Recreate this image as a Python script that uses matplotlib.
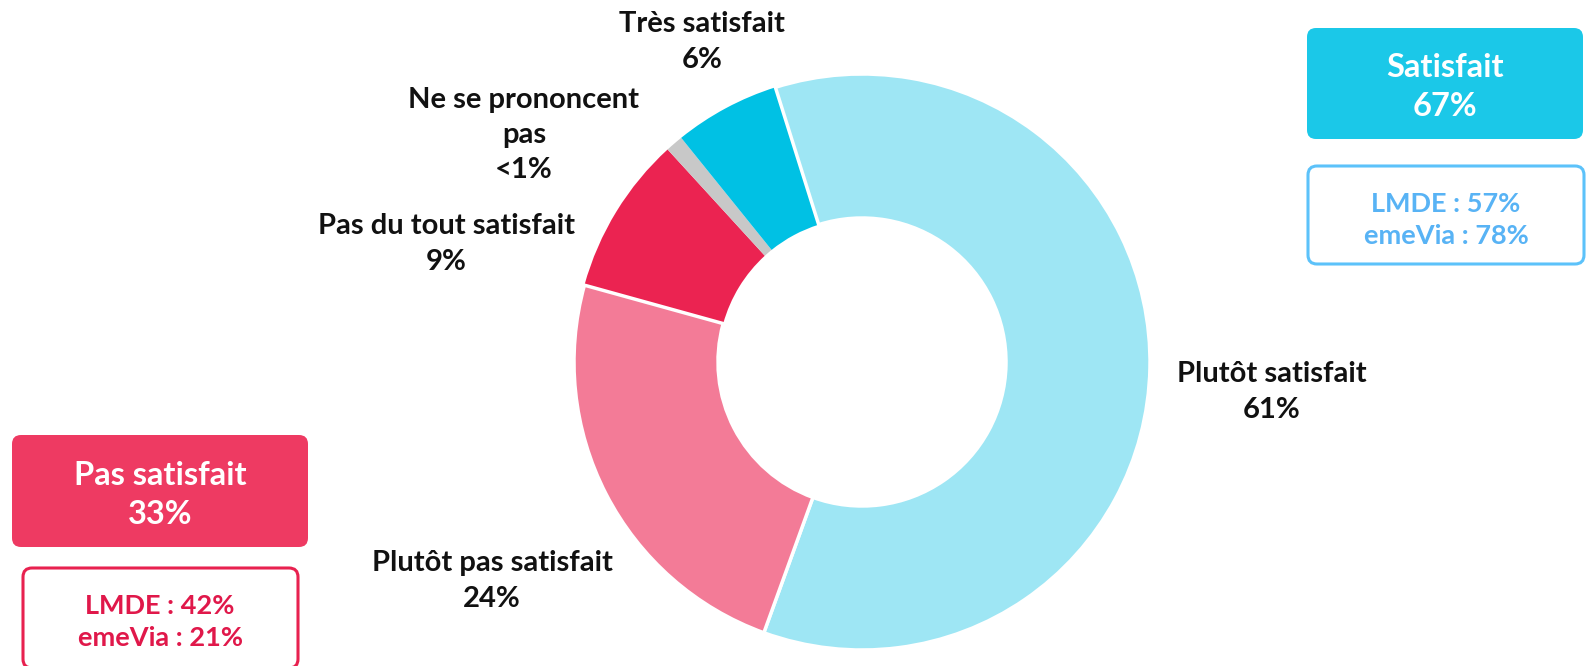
import matplotlib.pyplot as plt
from matplotlib.patches import FancyBboxPatch

plt.rcParams['font.family'] = ['Lato', 'DejaVu Sans']

# slices, clockwise from the top
labels = ['Plutôt satisfait', 'Plutôt pas satisfait', 'Pas du tout satisfait',
          'Ne se prononcent\npas', 'Très satisfait']
values = [61, 24, 9, 1, 6]
value_labels = ['61%', '24%', '9%', '<1%', '6%']
colors = ['#9ee6f4', '#f37b97', '#eb2351', '#c8c8c8', '#00c1e4']

# summary boxes
groups = ['Satisfait', 'Pas satisfait']
group_values = ['67%', '33%']
lmde = ['57%', '42%']
emevia = ['78%', '21%']

W, H = 1589, 666
fig = plt.figure(figsize=(W / 100, H / 100), dpi=100)
ax = fig.add_axes([0, 0, 1, 1])

wedges, _ = ax.pie(values, colors=colors, startangle=107.5, counterclock=False,
                   radius=288, center=(862, H - 362),
                   wedgeprops=dict(width=144, linewidth=0))
# white gaps only around the two big slices
for i in (0, 1):
    wedges[i].set_edgecolor('white')
    wedges[i].set_linewidth(2.5)
    wedges[i].set_zorder(3)

ax.set_xlim(0, W)
ax.set_ylim(0, H)
ax.set_aspect('equal')
ax.axis('off')

# label positions in pixels (x, y from top)
label_pos = [(1272, 392), (492, 581), (446, 244), (524, 135), (702, 42)]
for lab, val, (x, y) in zip(labels, value_labels, label_pos):
    ax.text(x, H - y, lab + '\n' + val, ha='center', va='center', fontsize=21,
            fontweight='bold', color='#111111', linespacing=1.45)


def box(x0, y0, x1, y1, fc, ec, lw=0):
    p = FancyBboxPatch((x0, H - y1), x1 - x0, y1 - y0,
                       boxstyle='round,pad=0,rounding_size=9',
                       fc=fc, ec=ec, lw=lw, zorder=2)
    ax.add_patch(p)


# Satisfait
box(1307, 28, 1583, 139, '#1bc8e8', '#1bc8e8')
ax.text(1445, H - 87, groups[0] + '\n' + group_values[0], ha='center', va='center',
        fontsize=23.5, fontweight='bold', color='white', linespacing=1.4, zorder=4)
box(1308, 166, 1584, 264, 'white', '#5cc2fa', lw=2.2)
ax.text(1446, H - 220, 'LMDE : ' + lmde[0] + '\nemeVia : ' + emevia[0], ha='center',
        va='center', fontsize=19.5, fontweight='bold', color='#58b3f5', linespacing=1.45,
        zorder=4)

# Pas satisfait
box(12, 435, 308, 547, '#ee3a62', '#ee3a62')
ax.text(160, H - 495, groups[1] + '\n' + group_values[1], ha='center', va='center',
        fontsize=23.5, fontweight='bold', color='white', linespacing=1.4, zorder=4)
box(23, 568, 298, 668, 'white', '#e8214f', lw=2.2)
ax.text(160, H - 622, 'LMDE : ' + lmde[1] + '\nemeVia : ' + emevia[1], ha='center',
        va='center', fontsize=19.5, fontweight='bold', color='#e0184a', linespacing=1.45,
        zorder=4)

fig.savefig('out.png', dpi=100)
